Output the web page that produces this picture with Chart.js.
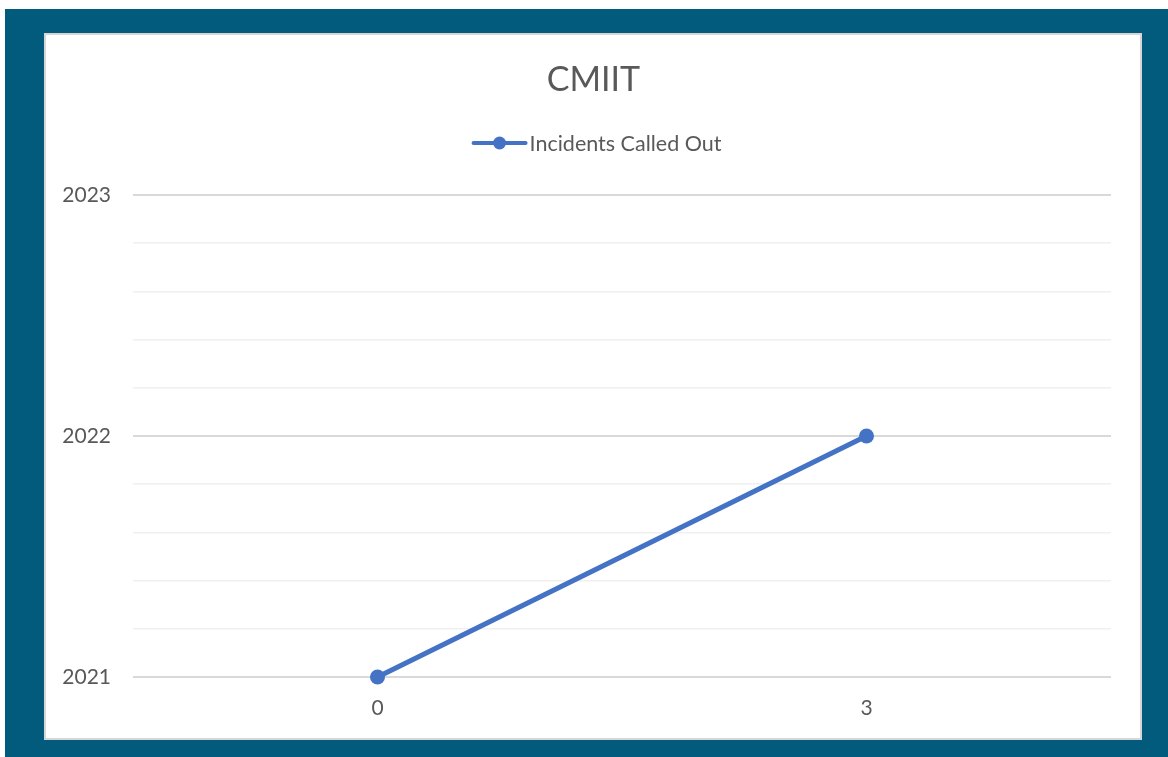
<!DOCTYPE html>
<html>
<head>
<meta charset="utf-8">
<script src="https://cdn.jsdelivr.net/npm/chart.js@4/dist/chart.umd.min.js"></script>
<style>
  html, body { margin: 0; padding: 0; background: #ffffff; }
  canvas { display: block; }
</style>
</head>
<body>
<canvas id="chart" width="1168" height="757"></canvas>
<script>
// Chart content
const chartTitle = 'CMIIT';
const seriesName = 'Incidents Called Out';
const categories = ['0', '3'];
const incidentYears = [2021, 2022];
const yTickLabels = ['2021', '2022', '2023'];
const yMin = 2021;
const yMax = 2023;
const yStep = 0.2;

// Styling
const TEXT = '#595959';
const LINE = '#4472C4';
const FRAME = '#025B7D';
const FONT = 'Lato, "Open Sans", sans-serif';
const PANEL_CENTER_X = 593.5;

// Teal frame with a white inner panel behind the chart
const framePlugin = {
  id: 'frame',
  beforeDraw(chart) {
    const { ctx, width, height } = chart;
    ctx.save();
    ctx.fillStyle = '#ffffff';
    ctx.fillRect(0, 0, width, height);
    ctx.fillStyle = FRAME;
    ctx.fillRect(5, 9, width - 5, height - 9);
    ctx.fillStyle = '#d6d6d6';
    ctx.fillRect(44, 33, 1098, 707);
    ctx.fillStyle = '#ffffff';
    ctx.fillRect(46, 35, 1094, 703);
    ctx.restore();
  }
};

// Title centred on the panel, and a legend entry: line with a round
// marker followed by the series name
const headerPlugin = {
  id: 'header',
  afterDraw(chart) {
    const { ctx } = chart;
    const ds = chart.data.datasets[0];
    ctx.save();
    ctx.fillStyle = TEXT;
    ctx.textAlign = 'center';
    ctx.textBaseline = 'middle';
    ctx.font = '34px ' + FONT;
    ctx.fillText(chartTitle, PANEL_CENTER_X, 80);

    const cy = 143;
    const centerX = 596.5;
    const markerW = 56;
    const gap = 2;
    ctx.font = '21.5px ' + FONT;
    const tw = ctx.measureText(ds.label).width;
    const x0 = centerX - (markerW + gap + tw) / 2;
    ctx.strokeStyle = ds.borderColor;
    ctx.lineWidth = 4;
    ctx.lineCap = 'round';
    ctx.beginPath();
    ctx.moveTo(x0 + 2, cy);
    ctx.lineTo(x0 + markerW - 2, cy);
    ctx.stroke();
    ctx.fillStyle = ds.pointBackgroundColor;
    ctx.beginPath();
    ctx.arc(x0 + markerW / 2, cy, 6.5, 0, Math.PI * 2);
    ctx.fill();
    ctx.fillStyle = TEXT;
    ctx.textAlign = 'left';
    ctx.fillText(ds.label, x0 + markerW + gap, cy + 1);
    ctx.restore();
  }
};

const isWhole = v => Math.abs(v - Math.round(v)) < 1e-6;

new Chart(document.getElementById('chart'), {
  type: 'line',
  data: {
    labels: categories,
    datasets: [{
      label: seriesName,
      data: incidentYears,
      borderColor: LINE,
      backgroundColor: LINE,
      pointBackgroundColor: LINE,
      pointBorderColor: LINE,
      borderWidth: 5.2,
      borderCapStyle: 'round',
      pointRadius: 7.5,
      pointBorderWidth: 0,
      tension: 0,
      fill: false,
      clip: false
    }]
  },
  options: {
    responsive: false,
    animation: false,
    devicePixelRatio: 1,
    layout: { padding: { left: 45, right: 57, top: 195, bottom: 20 } },
    plugins: {
      legend: { display: false },
      tooltip: { enabled: false },
      title: { display: false }
    },
    scales: {
      x: {
        type: 'category',
        offset: true,
        grid: { display: false, drawTicks: false },
        border: { display: false },
        ticks: { color: TEXT, font: { family: FONT, size: 21 }, padding: 19 },
        afterFit(scale) { scale.height = 60; }
      },
      y: {
        min: yMin,
        max: yMax,
        border: { display: false },
        grid: {
          drawTicks: false,
          color: c => isWhole(c.tick.value) ? '#d9d9d9' : '#f0f0f0',
          lineWidth: c => isWhole(c.tick.value) ? 2 : 1.5
        },
        ticks: {
          stepSize: yStep,
          color: TEXT,
          font: { family: FONT, size: 21 },
          padding: 22,
          autoSkip: false,
          callback: v => {
            if (!isWhole(v)) return '';
            const idx = Math.round(v) - yMin;
            return yTickLabels[idx] ?? '';
          }
        },
        afterFit(scale) { scale.width = 88; }
      }
    }
  },
  plugins: [framePlugin, headerPlugin]
});
</script>
</body>
</html>
